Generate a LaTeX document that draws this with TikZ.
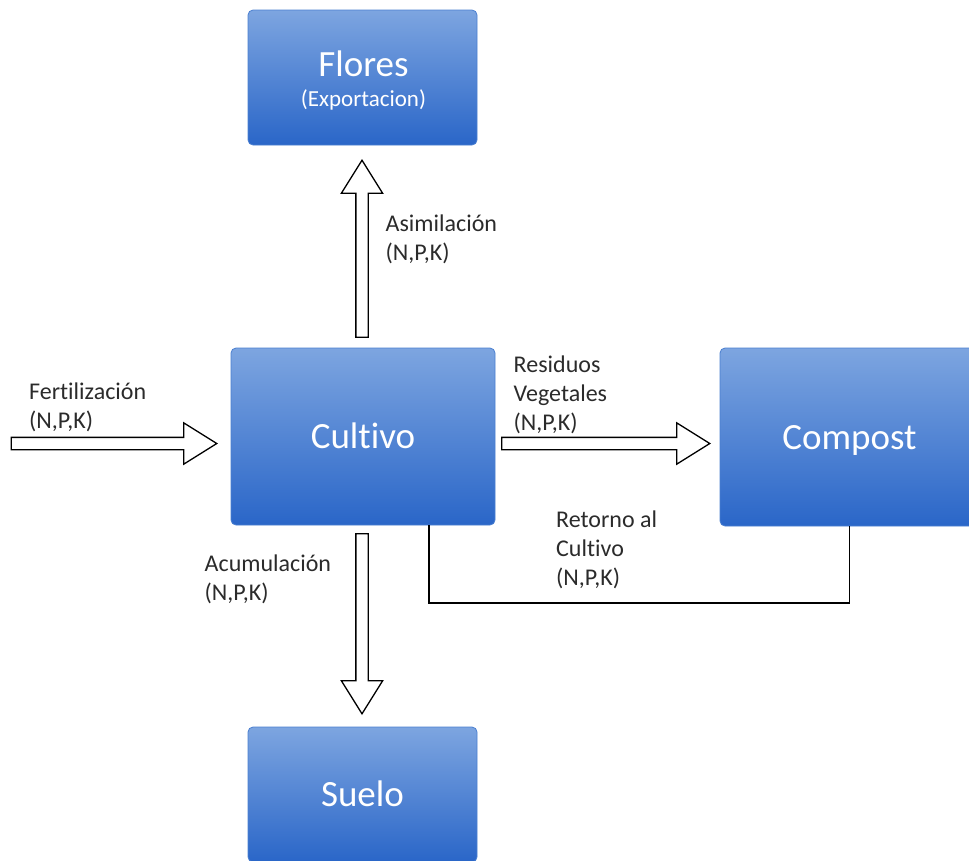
\documentclass[tikz,border=0pt]{standalone}
\usepackage{fontspec}
\setmainfont{Carlito}[Ligatures=NoCommon]
\usetikzlibrary{shapes.arrows}
\definecolor{boxtop}{HTML}{7DA5E0}
\definecolor{boxbot}{HTML}{2A66C8}
\definecolor{boxedge}{HTML}{4A7FD0}
\definecolor{lbl}{HTML}{2B2B2B}
\begin{document}
\begin{tikzpicture}[x=1pt,y=-1pt,
  box/.style={draw=boxedge, line width=0.8pt, rounded corners=5pt,
    top color=boxtop, bottom color=boxbot, text=white, align=center, inner sep=0pt},
  boxtxt/.style={text=white, inner sep=0pt, font=\fontsize{37}{40}\selectfont},
  fixtxt/.style={text height=24pt, text depth=0pt},
  subtxt/.style={text=white, inner sep=0pt, font=\fontsize{23}{28}\selectfont},
  blockarrow/.style={shape=single arrow, draw=black, fill=white, line width=1.3pt,
    inner xsep=0pt, inner ysep=5.5pt, single arrow head extend=14.5pt,
    single arrow tip angle=64, text height=0pt, text depth=0pt, minimum width=0pt,
    anchor=tip},
  lab/.style={anchor=base west, align=left, inner sep=0pt, text=lbl,
    font=\fontsize{24}{29}\selectfont},
  link/.style={draw=black, line width=1.3pt}]
\clip (0,0) rectangle (969,860);
% boxes
\node[box, minimum width=229, minimum height=135] (flores) at (362.5,77.5) {};
\node[boxtxt, anchor=base] (florest) at (363.5,76) {Flores};
\node[subtxt, anchor=base] (floress) at (363.5,106.5) {(Exportacion)};
\node[box, boxtxt, fixtxt, minimum width=264, minimum height=177] (cult) at (363,436.5) {Cultivo};
\node[box, boxtxt, fixtxt, minimum width=259, minimum height=178] (comp) at (849.5,437) {Compost};
\node[box, boxtxt, fixtxt, minimum width=229, minimum height=135] (suelo) at (362.5,794.5) {Suelo};
% block arrows
\node[blockarrow, minimum height=177, rotate=90] (aup) at (362,159) {};
\node[blockarrow, minimum height=205.5] (afert) at (218,443.5) {};
\node[blockarrow, minimum height=208] (ares) at (711,443.5) {};
\node[blockarrow, minimum height=180, rotate=-90] (adown) at (362,715) {};
% return connector
\draw[link] ([xshift=66]cult.south) -- ++(0,77.5) -| (comp.south);
% labels (base anchor = last line baseline)
\node[lab] (lasim) at (385.5,260) {Asimilación\\(N,P,K)};
\node[lab] (lfert) at (29,428) {Fertilización\\(N,P,K)};
\node[lab] (lres) at (513.5,430.5) {Residuos\\Vegetales\\(N,P,K)};
\node[lab] (lret) at (556,585) {Retorno al\\Cultivo\\(N,P,K)};
\node[lab] (lacu) at (204.5,600) {Acumulación\\(N,P,K)};
\end{tikzpicture}
\end{document}
